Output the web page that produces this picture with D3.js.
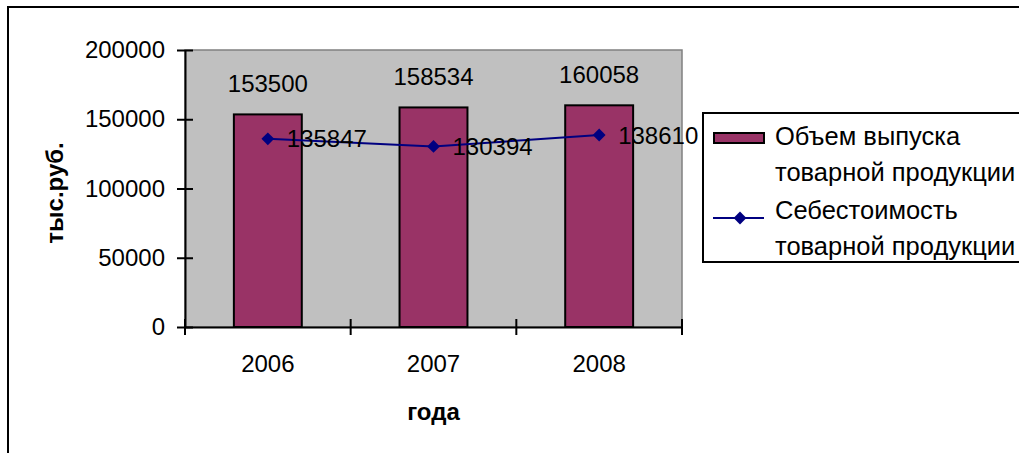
<!DOCTYPE html>
<html>
<head>
<meta charset="utf-8">
<script src="https://cdn.jsdelivr.net/npm/d3@7"></script>
<style>
  body { margin: 0; background: #fff; }
  svg { font-family: "Liberation Sans", Arial, sans-serif; }
</style>
</head>
<body>
<div id="chart"></div>
<script>
// data
const years = ["2006", "2007", "2008"];
const outputVolume = [153500, 158534, 160058];
const costPrice = [135847, 130394, 138610];
const yTicks = [0, 50000, 100000, 150000, 200000];
const seriesNames = [
    ["Объем выпуска", "товарной продукции"],
    ["Себестоимость", "товарной продукции"]
];

const width = 1019, height = 453;
const plot = { left: 185, top: 50, right: 682, bottom: 327 };

const svg = d3.select("#chart")
    .append("svg")
    .attr("width", width)
    .attr("height", height);

// outer frame (runs off the right and bottom edges)
svg.append("rect")
    .attr("x", 8).attr("y", 7)
    .attr("width", 1100).attr("height", 500)
    .attr("fill", "#fff")
    .attr("stroke", "#000")
    .attr("stroke-width", 2);

let x = d3.scaleBand()
    .domain(years)
    .range([plot.left, plot.right]);

let y = d3.scaleLinear()
    .domain([0, 200000])
    .range([plot.bottom, plot.top]);

// plot area
svg.append("rect")
    .attr("x", plot.left).attr("y", plot.top)
    .attr("width", plot.right - plot.left)
    .attr("height", plot.bottom - plot.top)
    .attr("fill", "#c0c0c0")
    .attr("stroke", "#808080")
    .attr("stroke-width", 1.5);

// bars
let barW = x.bandwidth() * 0.41;
svg.selectAll(".bar")
    .data(outputVolume)
    .enter().append("rect")
    .attr("class", "bar")
    .attr("x", function (d, i) { return x(years[i]) + x.bandwidth() / 2 - barW / 2; })
    .attr("y", function (d) { return y(d); })
    .attr("width", barW)
    .attr("height", function (d) { return y(0) - y(d); })
    .attr("fill", "#993366")
    .attr("stroke", "#000")
    .attr("stroke-width", 2);

// bar labels
svg.selectAll(".bar-label")
    .data(outputVolume)
    .enter().append("text")
    .attr("x", function (d, i) { return x(years[i]) + x.bandwidth() / 2; })
    .attr("y", function (d) { return y(d) - 22; })
    .attr("text-anchor", "middle")
    .attr("font-size", 24)
    .text(function (d) { return d; });

// line
let line = d3.line()
    .x(function (d, i) { return x(years[i]) + x.bandwidth() / 2; })
    .y(function (d) { return y(d); });

svg.append("path")
    .datum(costPrice)
    .attr("fill", "none")
    .attr("stroke", "#000080")
    .attr("stroke-width", 2)
    .attr("d", line);

let diamond = d3.symbol().type(d3.symbolDiamond2).size(105);
svg.selectAll(".marker")
    .data(costPrice)
    .enter().append("path")
    .attr("transform", function (d, i) {
        return "translate(" + (x(years[i]) + x.bandwidth() / 2) + "," + y(d) + ")";
    })
    .attr("d", diamond)
    .attr("fill", "#000080");

svg.selectAll(".line-label")
    .data(costPrice)
    .enter().append("text")
    .attr("x", function (d, i) { return x(years[i]) + x.bandwidth() / 2 + 19; })
    .attr("y", function (d) { return y(d); })
    .attr("dy", "0.36em")
    .attr("font-size", 24)
    .text(function (d) { return d; });

// y axis
let yAxis = svg.append("g")
    .attr("transform", "translate(" + plot.left + ",0)")
    .call(d3.axisLeft(y).tickValues(yTicks).tickFormat(d3.format("d"))
        .tickSizeInner(8).tickSizeOuter(0).tickPadding(12));
yAxis.selectAll(".tick line").attr("x2", 8).attr("x1", -8).attr("stroke-width", 2);
yAxis.select(".domain").attr("stroke-width", 2);
yAxis.selectAll("text")
    .attr("font-size", 24)
    .attr("font-family", "Liberation Sans, Arial, sans-serif")
    .attr("fill", "#000");

// x axis
let xAxis = svg.append("g")
    .attr("transform", "translate(0," + plot.bottom + ")")
    .call(d3.axisBottom(x).tickSize(0).tickPadding(28));
xAxis.select(".domain").attr("stroke-width", 2);
xAxis.selectAll("text")
    .attr("font-size", 24)
    .attr("font-family", "Liberation Sans, Arial, sans-serif")
    .attr("fill", "#000");

// category boundary ticks
let bounds = years.map(function (d) { return x(d); }).concat([x(years[years.length - 1]) + x.bandwidth()]);
svg.selectAll(".xtick")
    .data(bounds)
    .enter().append("line")
    .attr("x1", function (d) { return d; })
    .attr("x2", function (d) { return d; })
    .attr("y1", plot.bottom - 8)
    .attr("y2", plot.bottom + 8)
    .attr("stroke", "#000")
    .attr("stroke-width", 2);

// axis titles
svg.append("text")
    .attr("transform", "translate(63,193) rotate(-90)")
    .attr("text-anchor", "middle")
    .attr("font-size", 24)
    .attr("font-weight", "bold")
    .text("тыс.руб.");

svg.append("text")
    .attr("x", (plot.left + plot.right) / 2)
    .attr("y", 420)
    .attr("text-anchor", "middle")
    .attr("font-size", 24)
    .attr("font-weight", "bold")
    .text("года");

// legend
let legend = svg.append("g");
legend.append("rect")
    .attr("x", 703).attr("y", 113)
    .attr("width", 400).attr("height", 149)
    .attr("fill", "#fff")
    .attr("stroke", "#000")
    .attr("stroke-width", 2);

legend.append("rect")
    .attr("x", 714).attr("y", 133)
    .attr("width", 50).attr("height", 10)
    .attr("fill", "#993366")
    .attr("stroke", "#000")
    .attr("stroke-width", 2);

legend.append("line")
    .attr("x1", 713).attr("x2", 764)
    .attr("y1", 218).attr("y2", 218)
    .attr("stroke", "#000080")
    .attr("stroke-width", 2);
legend.append("path")
    .attr("transform", "translate(740,218)")
    .attr("d", diamond)
    .attr("fill", "#000080");

let entryBaseline = [145, 219];
seriesNames.forEach(function (lines, i) {
    lines.forEach(function (t, j) {
        legend.append("text")
            .attr("x", 775)
            .attr("y", entryBaseline[i] + j * 36)
            .attr("font-size", 25.5)
            .text(t);
    });
});
</script>
</body>
</html>
